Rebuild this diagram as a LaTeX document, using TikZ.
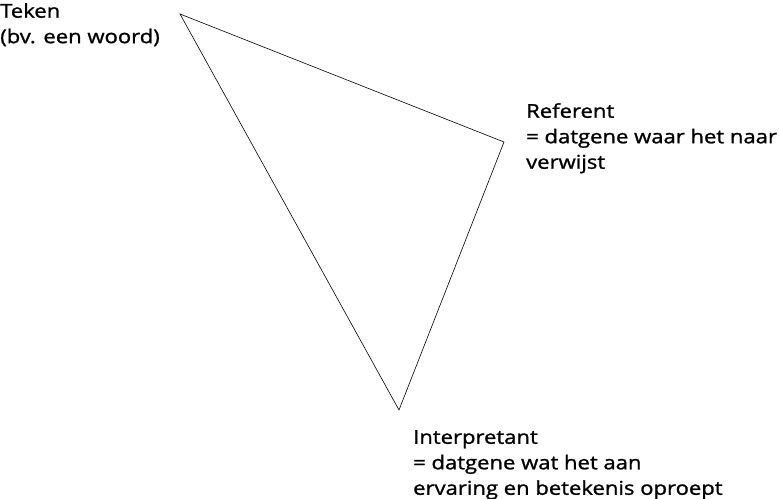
\documentclass[tikz,border=0pt]{standalone}
\usepackage{fontspec}
\setmainfont{Open Sans}[FakeStretch=1.16,FakeBold=1.2]
\begin{document}
\begin{tikzpicture}[x=1pt,y=-1pt,
  lbl/.style={anchor=north west,align=left,inner sep=0pt,font=\fontsize{19}{25.5}\selectfont},
  edge/.style={draw=black,line width=0.6pt}]
\useasboundingbox (0,0) rectangle (779,498);
\coordinate (t) at (180,14);
\coordinate (r) at (504,142);
\coordinate (i) at (399,410);
\draw[edge] (t) -- (r) -- (i) -- cycle;
\node[lbl] (teken) at (0,3) {Teken\\(bv. een woord)};
\node[lbl] (ref) at (526,103) {Referent\\= datgene waar het naar\\verwijst};
\node[lbl] (int) at (413,430) {Interpretant\\= datgene wat het aan\\ervaring en betekenis oproept};
\end{tikzpicture}
\end{document}
